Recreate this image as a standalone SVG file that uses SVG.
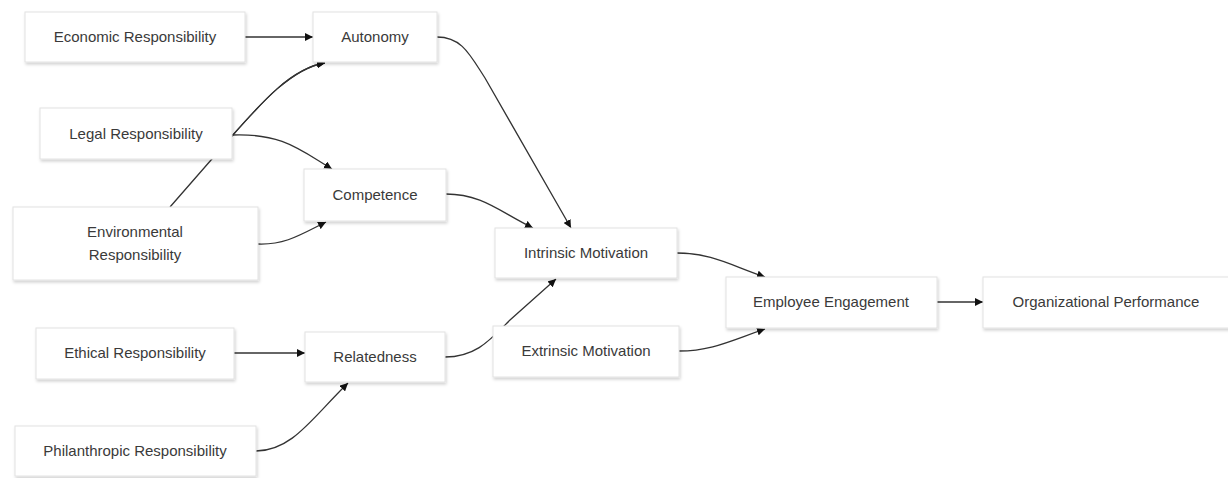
<svg xmlns="http://www.w3.org/2000/svg" width="1228" height="478" viewBox="0 0 1228 478">
  <style>
    .node rect { fill: #ffffff; stroke: #e2e2e2; stroke-width: 1; filter: url(#shadow); }
    .node text { font-family: "Liberation Sans", Arial, sans-serif; font-size: 15px; fill: #3a3a3a; text-anchor: middle; }
    .edge { fill: none; stroke: #333333; stroke-width: 1.3; marker-end: url(#arrow); }
  </style>
  <defs>
    <marker id="arrow" viewBox="0 0 10 10" refX="10" refY="5" markerWidth="8" markerHeight="8" markerUnits="userSpaceOnUse" orient="auto">
      <path d="M0,0 L10,5 L0,10 z" fill="#111111"/>
    </marker>
    <filter id="shadow" x="-10%" y="-20%" width="130%" height="160%">
      <feDropShadow dx="1" dy="2" stdDeviation="1.5" flood-color="#000000" flood-opacity="0.18"/>
    </filter>
  </defs>

  <g id="connectors">
    <path class="edge" d="M245,37 L313,37"/>
    <path class="edge" d="M232,136 C262,102 292,68 325,63"/>
    <path class="edge" d="M170,207 L232,136 C262,102 292,68 325,63"/>
    <path class="edge" d="M232,135 C282,133 300,150 332,169"/>
    <path class="edge" d="M258,244 C285,245 300,235 326,222"/>
    <path class="edge" d="M437,37 C462,37 470,55 485,78 L571,228"/>
    <path class="edge" d="M446,194 C482,194 500,212 533,228"/>
    <path class="edge" d="M234,353 L305,353"/>
    <path class="edge" d="M256,451 C292,451 312,418 348,383"/>
    <path class="edge" d="M445,357 C476,357 490,340 510,320 L556,279"/>
    <path class="edge" d="M677,253 C712,253 732,266 765,277"/>
    <path class="edge" d="M679,351 C712,351 732,340 765,329"/>
    <path class="edge" d="M937,302 L983,302"/>
  </g>

  <g id="economic" class="node">
    <rect x="25" y="12" width="220" height="50"/>
    <text x="135" y="42">Economic Responsibility</text>
  </g>
  <g id="autonomy" class="node">
    <rect x="313" y="12" width="124" height="50"/>
    <text x="375" y="42">Autonomy</text>
  </g>
  <g id="legal" class="node">
    <rect x="40" y="108" width="192" height="51"/>
    <text x="136" y="139">Legal Responsibility</text>
  </g>
  <g id="competence" class="node">
    <rect x="304" y="169" width="142" height="52"/>
    <text x="375" y="200">Competence</text>
  </g>
  <g id="environmental" class="node">
    <rect x="13" y="207" width="245" height="73"/>
    <text x="135" y="237">Environmental</text>
    <text x="135" y="260">Responsibility</text>
  </g>
  <g id="ethical" class="node">
    <rect x="36" y="328" width="198" height="51"/>
    <text x="135" y="358">Ethical Responsibility</text>
  </g>
  <g id="relatedness" class="node">
    <rect x="305" y="332" width="140" height="50"/>
    <text x="375" y="362">Relatedness</text>
  </g>
  <g id="philanthropic" class="node">
    <rect x="15" y="426" width="241" height="50"/>
    <text x="135" y="456">Philanthropic Responsibility</text>
  </g>
  <g id="intrinsic" class="node">
    <rect x="495" y="228" width="182" height="50"/>
    <text x="586" y="258">Intrinsic Motivation</text>
  </g>
  <g id="extrinsic" class="node">
    <rect x="493" y="326" width="186" height="51"/>
    <text x="586" y="356">Extrinsic Motivation</text>
  </g>
  <g id="engagement" class="node">
    <rect x="726" y="277" width="211" height="51"/>
    <text x="831" y="307">Employee Engagement</text>
  </g>
  <g id="performance" class="node">
    <rect x="983" y="277" width="252" height="51"/>
    <text x="1106" y="307">Organizational Performance</text>
  </g>
</svg>
